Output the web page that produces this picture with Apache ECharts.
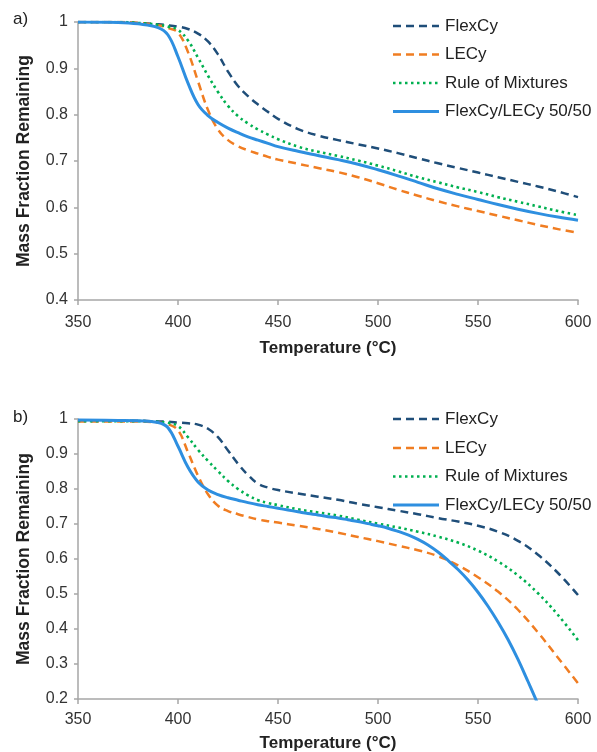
<!DOCTYPE html>
<html>
<head>
<meta charset="utf-8">
<script src="https://cdn.jsdelivr.net/npm/echarts@6/dist/echarts.min.js"></script>
<style>
html,body{margin:0;padding:0;background:#fff;}
#chart{width:597px;height:752px;}
</style>
</head>
<body>
<div id="chart"></div>
<script>
// ---- data ----
const seriesNames = ['FlexCy', 'LECy', 'Rule of Mixtures', 'FlexCy/LECy 50/50'];
const xTicks = [350, 400, 450, 500, 550, 600];
const yTicksA = [0.4, 0.5, 0.6, 0.7, 0.8, 0.9, 1];
const yTicksB = [0.2, 0.3, 0.4, 0.5, 0.6, 0.7, 0.8, 0.9, 1];

// panel a)
const tempA = [350, 370, 380, 390, 395, 400, 405, 410, 415, 420, 425, 430, 435, 440, 445, 450, 460, 470, 480, 490, 500, 510, 520, 530, 540, 550, 560, 570, 580, 590, 600];
const flexA = [1.000, 1.000, 0.998, 0.995, 0.993, 0.990, 0.985, 0.975, 0.958, 0.930, 0.893, 0.862, 0.840, 0.822, 0.806, 0.791, 0.769, 0.755, 0.745, 0.736, 0.727, 0.717, 0.706, 0.695, 0.685, 0.675, 0.665, 0.655, 0.645, 0.634, 0.622];
const lecyA = [1.000, 1.000, 0.998, 0.993, 0.987, 0.977, 0.935, 0.872, 0.810, 0.768, 0.745, 0.732, 0.723, 0.716, 0.709, 0.703, 0.694, 0.685, 0.676, 0.665, 0.652, 0.638, 0.625, 0.613, 0.602, 0.592, 0.582, 0.572, 0.562, 0.553, 0.545];
const romA  = [1.000, 1.000, 0.998, 0.994, 0.990, 0.983, 0.960, 0.923, 0.884, 0.849, 0.819, 0.797, 0.781, 0.768, 0.757, 0.747, 0.731, 0.720, 0.711, 0.701, 0.690, 0.678, 0.665, 0.654, 0.643, 0.633, 0.622, 0.612, 0.602, 0.592, 0.583];
const blendA = [1.000, 0.999, 0.996, 0.988, 0.972, 0.925, 0.868, 0.822, 0.798, 0.783, 0.771, 0.761, 0.752, 0.745, 0.738, 0.731, 0.721, 0.712, 0.703, 0.693, 0.681, 0.668, 0.654, 0.640, 0.628, 0.617, 0.606, 0.596, 0.587, 0.579, 0.572];

// panel b)
const tempB = [350, 370, 380, 390, 395, 400, 405, 410, 415, 420, 425, 430, 435, 440, 445, 450, 460, 470, 480, 490, 500, 510, 520, 530, 540, 550, 560, 570, 580, 590, 600];
const flexB = [0.995, 0.995, 0.995, 0.993, 0.992, 0.990, 0.988, 0.984, 0.972, 0.948, 0.910, 0.872, 0.840, 0.815, 0.804, 0.797, 0.787, 0.778, 0.769, 0.758, 0.748, 0.738, 0.728, 0.717, 0.707, 0.695, 0.678, 0.652, 0.612, 0.560, 0.497];
const lecyB = [0.993, 0.993, 0.993, 0.990, 0.985, 0.968, 0.905, 0.838, 0.785, 0.752, 0.737, 0.728, 0.720, 0.713, 0.708, 0.704, 0.695, 0.686, 0.675, 0.663, 0.651, 0.638, 0.625, 0.608, 0.582, 0.548, 0.507, 0.455, 0.390, 0.318, 0.245];
const romB  = [0.994, 0.994, 0.994, 0.992, 0.989, 0.980, 0.948, 0.912, 0.880, 0.851, 0.823, 0.800, 0.782, 0.768, 0.760, 0.754, 0.742, 0.733, 0.724, 0.712, 0.701, 0.690, 0.678, 0.664, 0.647, 0.624, 0.593, 0.553, 0.502, 0.440, 0.368];
const tempBlendB = [350, 370, 380, 390, 395, 400, 405, 410, 415, 420, 425, 430, 435, 440, 445, 450, 455, 460, 465, 470, 475, 480, 485, 490, 495, 500, 505, 510, 515, 520, 525, 530, 535, 540, 545, 550, 555, 560, 565, 570, 575, 580];
const blendB = [0.997, 0.996, 0.995, 0.990, 0.975, 0.922, 0.862, 0.820, 0.797, 0.784, 0.775, 0.768, 0.761, 0.755, 0.750, 0.745, 0.740, 0.735, 0.730, 0.726, 0.721, 0.717, 0.712, 0.707, 0.701, 0.695, 0.688, 0.679, 0.669, 0.656, 0.640, 0.620, 0.596, 0.570, 0.540, 0.505, 0.465, 0.420, 0.370, 0.313, 0.250, 0.185];

// ---- styles ----
const colors = ['#1f4e79', '#f07d22', '#00b050', '#2e8fe0'];
const lineTypes = [[8, 5], [8, 5], [2.5, 3.5], 'solid'];
const widths = [2.5, 2.5, 2.6, 3];
const FONT = 'Liberation Sans, Arial, sans-serif';

function pairs(xs, ys) { return xs.map((x, i) => [x, ys[i]]); }

function mkSeries(name, idx, data, gi) {
  return {
    name: name, type: 'line', xAxisIndex: gi, yAxisIndex: gi,
    data: data, showSymbol: false, symbol: 'none',
    smooth: 0.4, clip: true,
    lineStyle: { color: colors[idx], width: widths[idx], type: lineTypes[idx], cap: 'butt', join: 'round' },
    itemStyle: { color: colors[idx] },
    z: idx === 3 ? 3 : 2
  };
}

function xAxis(gi, gap, margin) {
  return {
    type: 'value', gridIndex: gi, min: xTicks[0], max: xTicks[xTicks.length - 1],
    interval: xTicks[1] - xTicks[0],
    name: 'Temperature (°C)', nameLocation: 'middle', nameGap: gap,
    nameTextStyle: { fontFamily: FONT, fontSize: 17, fontWeight: 'bold', color: '#222' },
    axisLine: { show: true, onZero: false, lineStyle: { color: '#a6a6a6', width: 1.5 } },
    axisTick: { show: true, inside: false, length: 5, lineStyle: { color: '#a6a6a6', width: 1.5 } },
    axisLabel: { fontFamily: FONT, fontSize: 16, color: '#333', margin: margin },
    splitLine: { show: false }
  };
}

function yAxis(gi, ticks) {
  return {
    type: 'value', gridIndex: gi, min: ticks[0], max: ticks[ticks.length - 1], interval: 0.1,
    name: 'Mass Fraction Remaining', nameLocation: 'middle', nameGap: 45,
    nameTextStyle: { fontFamily: FONT, fontSize: 17.5, fontWeight: 'bold', color: '#222' },
    axisLine: { show: true, onZero: false, lineStyle: { color: '#a6a6a6', width: 1.5 } },
    axisTick: { show: true, inside: false, length: 4, lineStyle: { color: '#a6a6a6', width: 1.5 } },
    axisLabel: { fontFamily: FONT, fontSize: 16, color: '#333', margin: 10,
      formatter: v => String(Math.round(v * 10) / 10) },
    splitLine: { show: false }
  };
}

// legend drawn as graphic elements (line sample + text)
function legendGraphics(centers) {
  const out = [];
  seriesNames.forEach((n, i) => {
    const y = centers[i];
    out.push({ type: 'line', shape: { x1: 393, y1: y, x2: 439, y2: y },
      style: { stroke: colors[i], lineWidth: widths[i], lineDash: lineTypes[i] === 'solid' ? null : lineTypes[i] }, z: 10 });
    out.push({ type: 'text', x: 445, y: y,
      style: { text: n, fontFamily: FONT, fontSize: 17, fill: '#222', verticalAlign: 'middle', align: 'left' }, z: 10 });
  });
  return out;
}

const series = [];
const dataA = [pairs(tempA, flexA), pairs(tempA, lecyA), pairs(tempA, romA), pairs(tempA, blendA)];
const dataB = [pairs(tempB, flexB), pairs(tempB, lecyB), pairs(tempB, romB), pairs(tempBlendB, blendB)];
seriesNames.forEach((n, i) => series.push(mkSeries(n, i, dataA[i], 0)));
seriesNames.forEach((n, i) => series.push(mkSeries(n + ' (b)', i, dataB[i], 1)));

const chart = echarts.init(document.getElementById('chart'), null, { renderer: 'canvas' });
chart.setOption({
  animation: false,
  backgroundColor: '#fff',
  grid: [
    { left: 78, top: 22, width: 500, height: 278, containLabel: false, outerBoundsMode: 'none' },
    { left: 78, top: 419, width: 500, height: 280, containLabel: false, outerBoundsMode: 'none' }
  ],
  xAxis: [xAxis(0, 40, 15), xAxis(1, 36, 13)],
  yAxis: [yAxis(0, yTicksA), yAxis(1, yTicksB)],
  graphic: [
    { type: 'text', left: 13, top: 11, style: { text: 'a)', fontFamily: FONT, fontSize: 17, fill: '#222' } },
    { type: 'text', left: 13, top: 409, style: { text: 'b)', fontFamily: FONT, fontSize: 17, fill: '#222' } }
  ].concat(legendGraphics([26, 54.5, 83, 111.5]), legendGraphics([419, 448, 476.5, 505])),
  series: series
});
</script>
</body>
</html>
